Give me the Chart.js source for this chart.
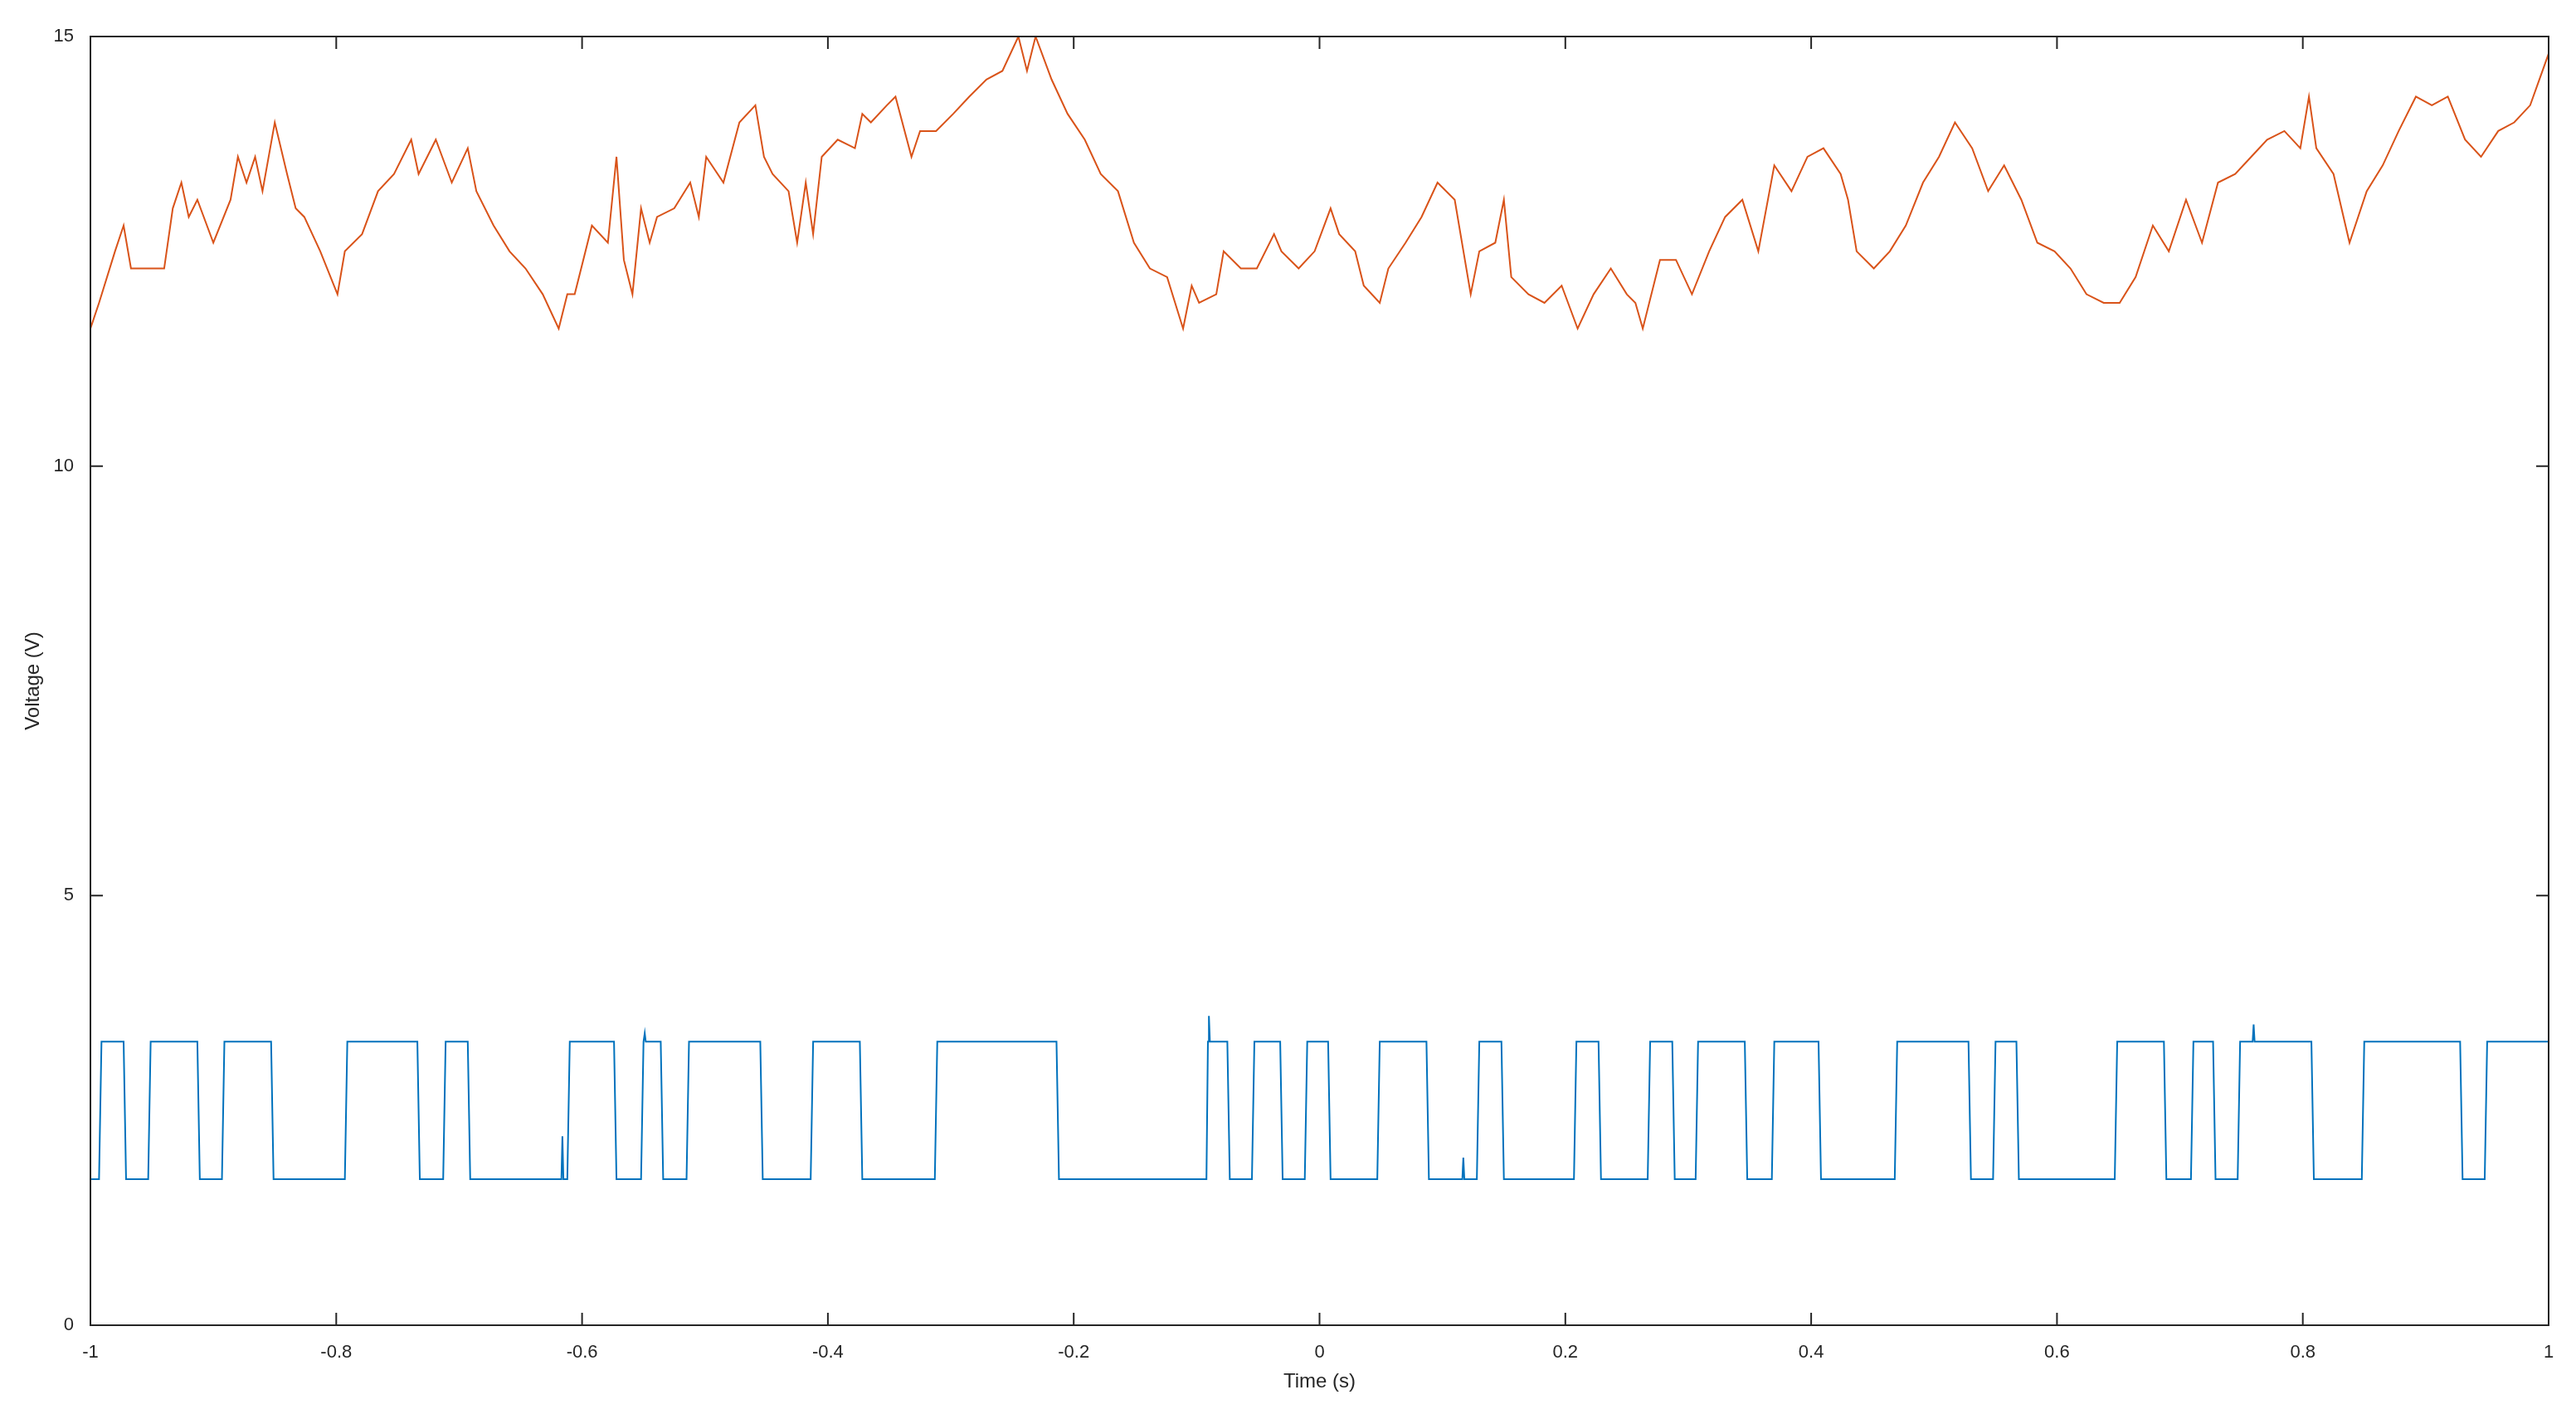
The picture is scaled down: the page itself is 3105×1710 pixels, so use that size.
<!DOCTYPE html>
<html><head><meta charset="utf-8">
<script src="https://cdn.jsdelivr.net/npm/chart.js@4/dist/chart.umd.min.js"></script>
<style>html,body{margin:0;padding:0;background:#fff}#wrap{width:3105px;height:1710px}</style>
</head><body><div id="wrap"><canvas id="c"></canvas></div>
<script>
// Orange (supply voltage) samples: time (s) and voltage (V)
const orangeT = [-1,-0.993,-0.980,-0.973,-0.967,-0.953,-0.940,-0.933,-0.926,-0.920,-0.913,-0.900,-0.886,-0.880,-0.873,-0.866,-0.860,-0.850,-0.840,-0.833,-0.826,-0.813,-0.799,-0.793,-0.779,-0.766,-0.753,-0.739,-0.733,-0.719,-0.706,-0.693,-0.686,-0.672,-0.659,-0.646,-0.632,-0.619,-0.612,-0.606,-0.599,-0.592,-0.579,-0.572,-0.566,-0.559,-0.552,-0.545,-0.539,-0.525,-0.512,-0.505,-0.499,-0.485,-0.472,-0.459,-0.452,-0.445,-0.432,-0.425,-0.418,-0.412,-0.405,-0.392,-0.378,-0.372,-0.365,-0.352,-0.345,-0.332,-0.325,-0.312,-0.298,-0.285,-0.271,-0.258,-0.245,-0.238,-0.231,-0.218,-0.205,-0.191,-0.178,-0.164,-0.151,-0.138,-0.124,-0.111,-0.104,-0.098,-0.084,-0.078,-0.064,-0.051,-0.037,-0.031,-0.017,-0.004,0.009,0.016,0.029,0.036,0.049,0.056,0.070,0.083,0.096,0.110,0.123,0.130,0.143,0.150,0.156,0.170,0.183,0.197,0.210,0.223,0.237,0.250,0.257,0.263,0.277,0.290,0.303,0.317,0.330,0.344,0.357,0.370,0.384,0.397,0.410,0.424,0.430,0.437,0.451,0.464,0.477,0.491,0.504,0.517,0.531,0.544,0.557,0.571,0.584,0.598,0.611,0.624,0.638,0.651,0.664,0.678,0.691,0.705,0.718,0.731,0.745,0.758,0.771,0.785,0.798,0.805,0.811,0.825,0.838,0.852,0.865,0.878,0.892,0.905,0.918,0.932,0.945,0.959,0.972,0.985,1.0];
const orangeV = [11.6,11.9,12.5,12.8,12.3,12.3,12.3,13.0,13.3,12.9,13.1,12.6,13.1,13.6,13.3,13.6,13.2,14.0,13.4,13.0,12.9,12.5,12.0,12.5,12.7,13.2,13.4,13.8,13.4,13.8,13.3,13.7,13.2,12.8,12.5,12.3,12.0,11.6,12.0,12.0,12.4,12.8,12.6,13.6,12.4,12.0,13.0,12.6,12.9,13.0,13.3,12.9,13.6,13.3,14.0,14.2,13.6,13.4,13.2,12.6,13.3,12.7,13.6,13.8,13.7,14.1,14.0,14.2,14.3,13.6,13.9,13.9,14.1,14.3,14.5,14.6,15.0,14.6,15.0,14.5,14.1,13.8,13.4,13.2,12.6,12.3,12.2,11.6,12.1,11.9,12.0,12.5,12.3,12.3,12.7,12.5,12.3,12.5,13.0,12.7,12.5,12.1,11.9,12.3,12.6,12.9,13.3,13.1,12.0,12.5,12.6,13.1,12.2,12.0,11.9,12.1,11.6,12.0,12.3,12.0,11.9,11.6,12.4,12.4,12.0,12.5,12.9,13.1,12.5,13.5,13.2,13.6,13.7,13.4,13.1,12.5,12.3,12.5,12.8,13.3,13.6,14.0,13.7,13.2,13.5,13.1,12.6,12.5,12.3,12.0,11.9,11.9,12.2,12.8,12.5,13.1,12.6,13.3,13.4,13.6,13.8,13.9,13.7,14.3,13.7,13.4,12.6,13.2,13.5,13.9,14.3,14.2,14.3,13.8,13.6,13.9,14.0,14.2,14.8];

// Blue (logic signal): start level, transition times, levels, spikes
const blueLow = 1.7;
const blueHigh = 3.3;
const blueStart = 1.7;
const blueEdges = [-0.993,-0.973,-0.953,-0.913,-0.893,-0.853,-0.793,-0.734,-0.713,-0.693,-0.612,-0.574,-0.552,-0.536,-0.515,-0.455,-0.414,-0.374,-0.313,-0.214,-0.092,-0.075,-0.055,-0.032,-0.012,0.007,0.047,0.087,0.128,0.148,0.207,0.227,0.267,0.287,0.306,0.346,0.368,0.406,0.468,0.528,0.548,0.567,0.647,0.687,0.709,0.727,0.747,0.807,0.848,0.928,0.948];
const spikeT = [-0.616,-0.549,-0.090,0.117,0.760];
const spikeV = [2.2,3.4,3.6,1.95,3.5];

const xTicks = [-1,-0.8,-0.6,-0.4,-0.2,0,0.2,0.4,0.6,0.8,1];
const yTicks = [0,5,10,15];

const orangeData = orangeT.map((t,i)=>({x:t,y:orangeV[i]}));
const blueData = [{x:-1,y:blueStart}];
let lvl = blueStart;
blueEdges.forEach(t=>{
  blueData.push({x:t,y:lvl});
  lvl = (lvl===blueLow)?blueHigh:blueLow;
  blueData.push({x:t+0.002,y:lvl});
});
blueData.push({x:1,y:lvl});
function levelAt(t){let l=blueStart;blueEdges.forEach(e=>{if(e<t)l=(l===blueLow)?blueHigh:blueLow;});return l;}
spikeT.forEach((t,i)=>{const l=levelAt(t);blueData.push({x:t-0.0008,y:l},{x:t,y:spikeV[i]},{x:t+0.0008,y:l});});
blueData.sort((a,b)=>a.x-b.x);

const box = {
  id:'box',
  afterDatasetsDraw(chart){
    const {ctx, chartArea:a, scales:{x,y}} = chart;
    ctx.save();
    ctx.strokeStyle='#262626'; ctx.lineWidth=2;
    ctx.strokeRect(a.left,a.top,a.right-a.left,a.bottom-a.top);
    ctx.beginPath();
    const L=15;
    xTicks.forEach(v=>{const p=x.getPixelForValue(v);ctx.moveTo(p,a.bottom);ctx.lineTo(p,a.bottom-L);ctx.moveTo(p,a.top);ctx.lineTo(p,a.top+L);});
    yTicks.forEach(v=>{const p=y.getPixelForValue(v);ctx.moveTo(a.left,p);ctx.lineTo(a.left+L,p);ctx.moveTo(a.right,p);ctx.lineTo(a.right-L,p);});
    ctx.stroke();
    ctx.restore();
  }
};

const font = {family:'"Liberation Sans", Arial, sans-serif', size:22};
new Chart(document.getElementById('c'),{
  type:'line',
  data:{datasets:[
    {data:blueData,borderColor:'#0072BD',borderWidth:2,pointRadius:0,tension:0},
    {data:orangeData,borderColor:'#D95319',borderWidth:2,pointRadius:0,tension:0}
  ]},
  options:{
    responsive:true,maintainAspectRatio:false,animation:false,
    layout:{padding:{top:44,right:33,left:22,bottom:26}},
    plugins:{legend:{display:false},tooltip:{enabled:false}},
    scales:{
      x:{type:'linear',min:-1,max:1,
        afterBuildTicks(s){s.ticks=xTicks.map(v=>({value:v}));},
        afterFit(s){s.height=87;},
        grid:{display:false},border:{display:false},
        ticks:{font,color:'#262626',padding:12,maxRotation:0,callback:v=>String(Math.round(v*10)/10)},
        title:{display:true,text:'Time (s)',font:{...font,size:24},color:'#262626',padding:{top:0}}},
      y:{min:0,max:15,
        afterBuildTicks(s){s.ticks=yTicks.map(v=>({value:v}));},
        afterFit(s){s.width=87;},
        grid:{display:false},border:{display:false},
        ticks:{font,color:'#262626',padding:12,callback:v=>String(v)},
        title:{display:true,text:'Voltage (V)',font:{...font,size:24},color:'#262626',padding:{bottom:4}}}
    }
  },
  plugins:[box]
});
</script></body></html>
